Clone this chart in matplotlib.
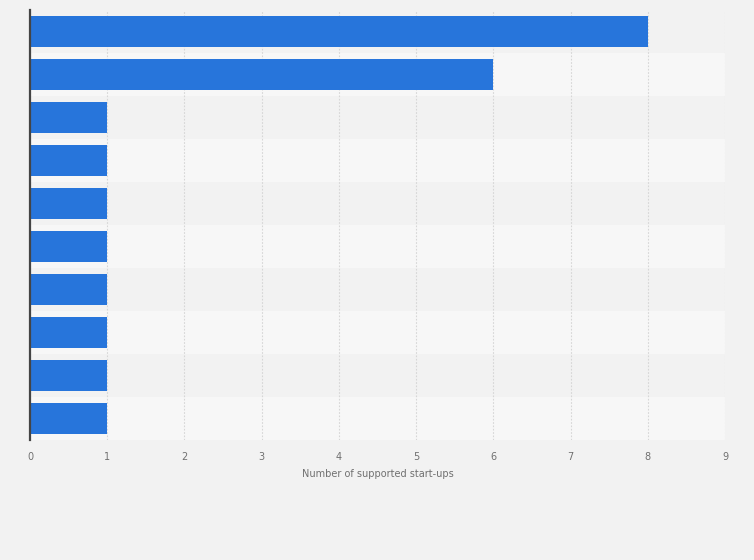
import matplotlib.pyplot as plt

# values (category names are not shown in the chart)
categories = ['Row 1', 'Row 2', 'Row 3', 'Row 4', 'Row 5',
              'Row 6', 'Row 7', 'Row 8', 'Row 9', 'Row 10']
startups = [8, 6, 1, 1, 1, 1, 1, 1, 1, 1]
x_ticks = [0, 1, 2, 3, 4, 5, 6, 7, 8, 9]

fig = plt.figure(figsize=(7.54, 5.6), dpi=100)
fig.patch.set_facecolor('#f2f2f2')
ax = fig.add_axes([30 / 754, 120 / 560, 695 / 754, 430 / 560])
ax.set_facecolor('#f2f2f2')

pos = list(range(len(categories)))
for i in pos:
    ax.axhspan(i - 0.5, i + 0.5, color='#f2f2f2' if i % 2 == 0 else '#f7f7f7',
               zorder=0, lw=0)

ax.barh(pos, startups, height=0.7, color='#2775db', zorder=3)

ax.set_xlim(0, 9)
ax.set_ylim(len(categories) - 0.5, -0.5)
ax.set_xticks(x_ticks)
ax.set_xticklabels([str(t) for t in x_ticks], fontsize=7, color='#707070')
ax.set_yticks(pos)
ax.set_yticklabels([])
ax.tick_params(axis='y', length=0)
ax.tick_params(axis='x', length=0, pad=9)
ax.grid(axis='x', color='#d6d6d6', linestyle=(0, (1.5, 1.5)), linewidth=0.8, zorder=1)

for s in ['top', 'right', 'bottom']:
    ax.spines[s].set_visible(False)
ax.spines['left'].set_color('#444444')
ax.spines['left'].set_linewidth(1.6)
ax.spines['left'].set_zorder(4)

ax.set_xlabel('Number of supported start-ups', fontsize=7, color='#707070',
              labelpad=5)

fig.savefig('out.png', dpi=100, facecolor=fig.get_facecolor())
